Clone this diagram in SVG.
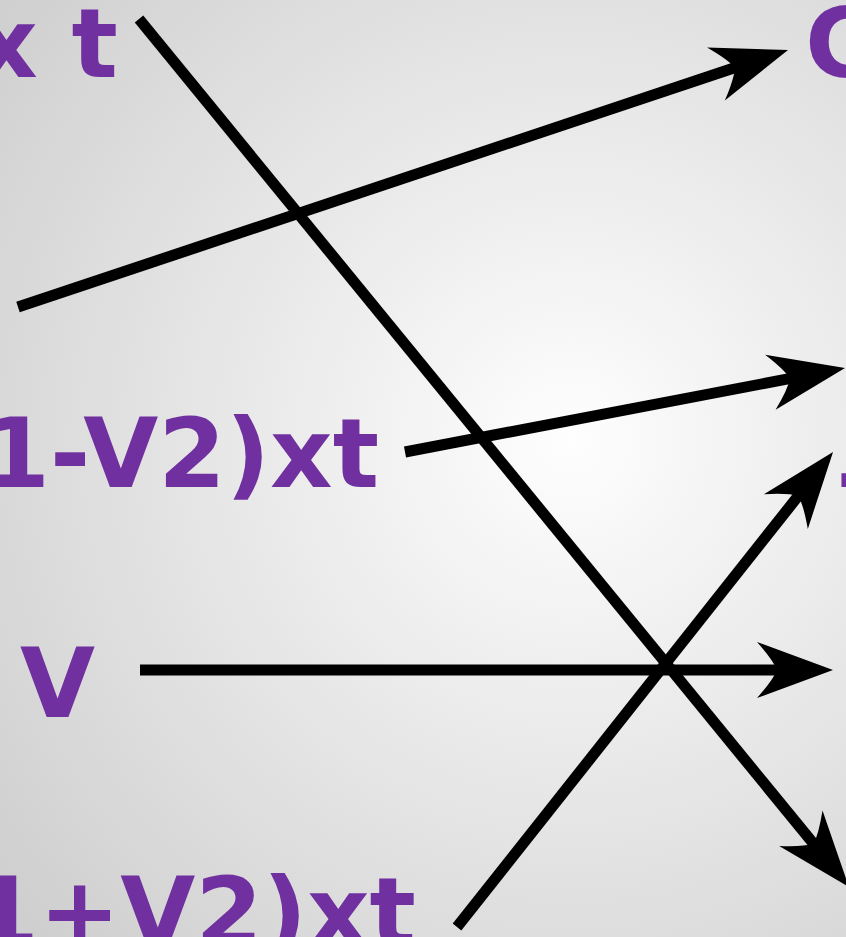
<svg xmlns="http://www.w3.org/2000/svg" width="846" height="937" viewBox="0 0 846 937">
<defs>
<radialGradient id="bg" gradientUnits="userSpaceOnUse" cx="570" cy="440" r="720">
<stop offset="0" stop-color="#fefefe"/>
<stop offset="1" stop-color="#cfcfcf"/>
</radialGradient>
<marker id="ah" markerUnits="userSpaceOnUse" orient="auto" refX="0" refY="0" markerWidth="200" markerHeight="200" viewBox="-100 -100 200 200" overflow="visible">
<path d="M50,0 L-26,-28 Q-10,-10 -6,0 Q-10,10 -26,28 Z" fill="#000"/>
</marker>
<style>
.lbl{font-family:"DejaVu Sans",sans-serif;font-weight:bold;font-size:97px;fill:#7030a0}
.ln{stroke:#000;stroke-width:11;fill:none;stroke-linecap:butt;marker-end:url(#ah)}
</style>
</defs>
<rect width="846" height="937" fill="url(#bg)"/>
<g id="connectors">
<line class="ln" x1="139" y1="19" x2="817.3" y2="848.3"/>
<line class="ln" x1="18" y1="307" x2="740.6" y2="65.8"/>
<line class="ln" x1="405" y1="452" x2="795.9" y2="377.4"/>
<line class="ln" x1="457" y1="927" x2="802" y2="491.2"/>
<line class="ln" x1="140" y1="670" x2="783" y2="670"/>
</g>
<g id="node-xt"><text class="lbl" x="118" y="77" text-anchor="end">x t</text></g>
<g id="node-1mv2"><text class="lbl" x="379" y="487" text-anchor="end">1-V2)xt</text></g>
<g id="node-v"><text class="lbl" x="20" y="717">V</text></g>
<g id="node-1pv2"><text class="lbl" x="416" y="946" text-anchor="end">1+V2)xt</text></g>
<g id="node-c"><text class="lbl" x="805" y="77">C</text></g>
<g id="node-t"><text class="lbl" x="841" y="544">T</text></g>
</svg>
